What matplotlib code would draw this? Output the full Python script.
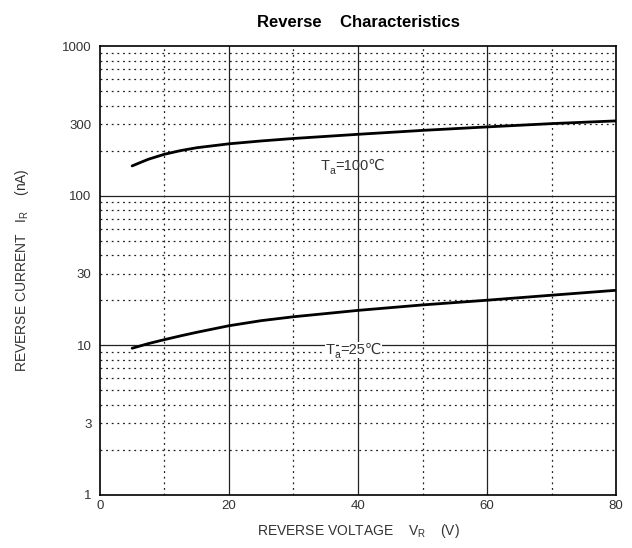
import numpy as np
import matplotlib as mpl
mpl.use("Agg")
import matplotlib.pyplot as plt

plt.rcParams['font.family'] = ['Liberation Sans', 'DejaVu Sans']

# curves (V_R in volts, I_R in nA)
v_100 = [5, 7.5, 10, 12.5, 15, 20, 25, 30, 40, 50, 60, 70, 80]
i_100 = [158, 175, 189, 200, 209, 222, 232, 241, 257, 273, 288, 303, 316]
v_25 = [5, 7.5, 10, 12.5, 15, 20, 25, 30, 40, 50, 60, 70, 80]
i_25 = [9.55, 10.25, 10.9, 11.55, 12.2, 13.5, 14.6, 15.5, 17.1, 18.6, 20.0, 21.6, 23.3]

y_ticks = [1, 3, 10, 30, 100, 300, 1000]
x_ticks = [0, 20, 40, 60, 80]

fig = plt.figure(figsize=(6.32, 5.48), dpi=100)
ax = fig.add_axes([0.158, 0.097, 0.817, 0.819])
ax.set_yscale('log')
ax.set_xlim(0, 80)
ax.set_ylim(1, 1000)

# grid: solid at majors, dotted at minors
for xv in [20, 40, 60]:
    ax.axvline(xv, color='#222222', lw=0.9, zorder=1)
for xv in [10, 30, 50, 70]:
    ax.axvline(xv, color='#222222', lw=0.9, ls=(0, (1.5, 3)), zorder=1)
for yv in [10, 100]:
    ax.axhline(yv, color='#222222', lw=0.9, zorder=1)
for dec in [1, 10, 100]:
    for m in range(2, 10):
        ax.axhline(dec * m, color='#222222', lw=0.9, ls=(0, (1.5, 3)), zorder=1)

ax.plot(v_100, i_100, color='black', lw=2.0, zorder=3, solid_capstyle='round')
ax.plot(v_25, i_25, color='black', lw=2.0, zorder=3, solid_capstyle='round')


def temp_label(x, y, temp, white=False):
    kw = dict(fontsize=10.5, color='#333333', va='center', ha='left', zorder=4)
    if white:
        kw['bbox'] = dict(facecolor='white', edgecolor='none', pad=0.6)
    ax.text(x, y, 'T', **kw)
    ax.annotate('=' + temp + '℃', (x, y), xytext=(10.5, 0), textcoords='offset points',
                **kw)
    ax.annotate('a', (x, y), xytext=(6.3, -3.5), textcoords='offset points',
                fontsize=7.5, color='#333333', va='center', ha='left', zorder=5)


temp_label(34.2, 158, '100')
temp_label(35.0, 9.3, '25', white=True)

ax.set_yticks(y_ticks)
ax.set_yticklabels([str(t) for t in y_ticks])
ax.yaxis.set_minor_locator(mpl.ticker.NullLocator())
ax.set_xticks(x_ticks)
ax.tick_params(length=0, labelsize=9.5, pad=6, colors='#333333')
ax.tick_params(axis='x', pad=4)
for s in ax.spines.values():
    s.set_linewidth(1.2)

ax.set_title('Reverse    Characteristics', fontsize=12, fontweight='bold', pad=14)
ax.set_xlabel(r'REVERSE VOLTAGE    V$_{\mathregular{R}}$    (V)', fontsize=10, labelpad=7, color='#333333')
ax.set_ylabel(r'REVERSE CURRENT   I$_{\mathregular{R}}$    (nA)', fontsize=10, labelpad=22, color='#333333')

fig.savefig('out.png', dpi=100)
